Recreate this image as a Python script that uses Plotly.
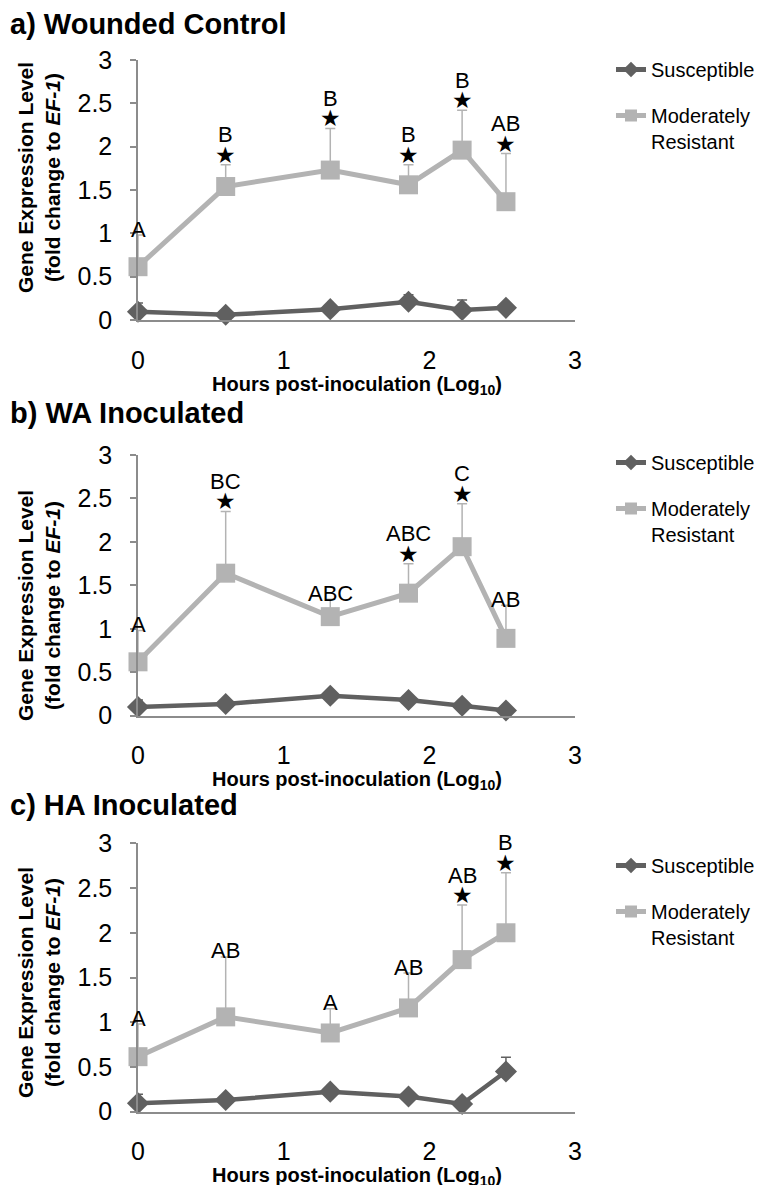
import plotly.graph_objects as go

# ---------------- data ----------------
hours_log = [0.0, 0.602, 1.32, 1.857, 2.225, 2.526]
x_tick_vals = [0, 1, 2, 3]
y_tick_vals = [0, 0.5, 1, 1.5, 2, 2.5, 3]
y_tick_text = ["0", "0.5", "1", "1.5", "2", "2.5", "3"]

panel_titles = ["a) Wounded Control", "b) WA Inoculated", "c) HA Inoculated"]
series_names = ["Susceptible", "Moderately<br>Resistant"]

sus_a = [0.096, 0.06, 0.125, 0.21, 0.115, 0.14]
sus_a_err = [0.10, 0.02, 0.03, 0.08, 0.115, 0.03]
mr_a = [0.615, 1.54, 1.73, 1.56, 1.96, 1.365]
mr_a_err = [0.365, 0.25, 0.48, 0.23, 0.46, 0.555]
letters_a = ["A", "B", "B", "B", "B", "AB"]
stars_a = [False, True, True, True, True, True]

sus_b = [0.10, 0.135, 0.23, 0.18, 0.115, 0.06]
sus_b_err = [0.08, 0.02, 0.05, 0.03, 0.02, 0.02]
mr_b = [0.62, 1.64, 1.14, 1.41, 1.945, 0.89]
mr_b_err = [0.36, 0.71, 0.20, 0.34, 0.495, 0.38]
letters_b = ["A", "BC", "ABC", "ABC", "C", "AB"]
stars_b = [False, True, False, True, True, False]

sus_c = [0.094, 0.13, 0.224, 0.17, 0.086, 0.45]
sus_c_err = [0.10, 0.02, 0.03, 0.02, 0.02, 0.16]
mr_c = [0.615, 1.06, 0.88, 1.16, 1.70, 2.0]
mr_c_err = [0.365, 0.67, 0.27, 0.39, 0.61, 0.67]
letters_c = ["A", "AB", "A", "AB", "AB", "B"]
stars_c = [False, False, False, False, True, True]

panels = [
    (sus_a, sus_a_err, mr_a, mr_a_err, letters_a, stars_a),
    (sus_b, sus_b_err, mr_b, mr_b_err, letters_b, stars_b),
    (sus_c, sus_c_err, mr_c, mr_c_err, letters_c, stars_c),
]

# ---------------- layout geometry (pixels in the 763x1185 page) ----------------
OFF = 8                      # page body margin
W, H = 763 - OFF, 1185 - OFF
FONT = "Arial, 'Liberation Sans', sans-serif"
plot_left, plot_right = 138, 575
panel_px = [(60, 320), (455, 715.7), (843.3, 1111.7)]   # (top, bottom)
title_y = [24, 413, 805]
ytitle_y = [178, 606, 983]
xtitle_y = [385, 780, 1176]
legend_top = [50, 443, 846]

S_COL = "#606060"
M_COL = "#b3b3b3"
AX_COL = "#8c8c8c"

def px_x(p):
    return (p - OFF) / W

def px_y(p):
    return 1 - (p - OFF) / H

fig = go.Figure()
annotations = []

for i, (sus, sus_err, mr, mr_err, letters, stars) in enumerate(panels):
    sfx = "" if i == 0 else str(i + 1)
    xa, ya = "x" + sfx, "y" + sfx
    leg = "legend" + sfx
    fig.add_trace(go.Scatter(
        x=hours_log, y=sus, name=series_names[0], mode="lines+markers",
        xaxis=xa, yaxis=ya, legend=leg, legendgroup="s" + sfx,
        line=dict(color=S_COL, width=4.5),
        marker=dict(symbol="diamond", size=17, color=S_COL),
        error_y=dict(type="data", array=sus_err, arrayminus=[0] * len(sus),
                     symmetric=False, color=S_COL, thickness=1.5, width=5),
        cliponaxis=False,
    ))
    fig.add_trace(go.Scatter(
        x=hours_log, y=mr, name=series_names[1], mode="lines+markers",
        xaxis=xa, yaxis=ya, legend=leg, legendgroup="m" + sfx,
        line=dict(color=M_COL, width=5),
        marker=dict(symbol="square", size=19, color=M_COL),
        error_y=dict(type="data", array=mr_err, arrayminus=[0] * len(mr),
                     symmetric=False, color=M_COL, thickness=1.5, width=5),
        cliponaxis=False,
    ))
    top, bot = panel_px[i]
    fig.update_layout(**{
        "xaxis" + sfx: dict(
            domain=[px_x(plot_left), px_x(plot_right)], range=[0, 3],
            anchor=ya, tickvals=x_tick_vals, ticks="", showgrid=False,
            zeroline=False, showline=True, linecolor=AX_COL, linewidth=1.5,
            ticklabelstandoff=17, automargin=False,
            tickfont=dict(size=25, color="black", family=FONT),
        ),
        "yaxis" + sfx: dict(
            domain=[px_y(bot), px_y(top)], range=[0, 3], anchor=xa,
            tickvals=y_tick_vals, ticktext=y_tick_text, ticks="outside",
            ticklen=6, tickcolor=AX_COL, tickwidth=1.5, showgrid=False,
            zeroline=False, showline=True, linecolor=AX_COL, linewidth=1.5,
            ticklabelstandoff=13, automargin=False,
            tickfont=dict(size=25, color="black", family=FONT),
        ),
        leg: dict(
            x=px_x(611), y=px_y(legend_top[i]), xanchor="left", yanchor="top",
            font=dict(size=20, color="black", family=FONT),
            bgcolor="rgba(0,0,0,0)", tracegroupgap=17, valign="top",
            itemsizing="constant",
        ),
    })
    # panel title
    annotations.append(dict(
        text="<b>" + panel_titles[i] + "</b>", xref="paper", yref="paper",
        x=px_x(8), y=px_y(title_y[i]), xanchor="left", yanchor="middle",
        showarrow=False, font=dict(size=29, color="black", family=FONT)))
    # y title
    annotations.append(dict(
        text="<b>Gene Expression Level<br>(fold change to <i>EF-1</i>)</b>",
        xref="paper", yref="paper", x=px_x(39), y=px_y(ytitle_y[i]),
        xanchor="center", yanchor="middle", textangle=-90, showarrow=False,
        font=dict(size=21, color="black", family=FONT)))
    # x title
    annotations.append(dict(
        text="<b>Hours post-inoculation (Log<sub>10</sub>)</b>",
        xref="paper", yref="paper", x=px_x(357), y=px_y(xtitle_y[i]),
        xanchor="center", yanchor="middle", showarrow=False,
        font=dict(size=20, color="black", family=FONT)))
    # letters and stars
    for xv, m, e, lab, st in zip(hours_log, mr, mr_err, letters, stars):
        ytop = m + e
        if st:
            annotations.append(dict(
                text="★", xref=xa, yref=ya, x=xv, y=ytop, yshift=10,
                showarrow=False, font=dict(size=23, color="black", family="DejaVu Sans")))
            annotations.append(dict(
                text=lab, xref=xa, yref=ya, x=xv, y=ytop, yshift=30,
                showarrow=False, font=dict(size=22, color="black", family=FONT)))
        else:
            annotations.append(dict(
                text=lab, xref=xa, yref=ya, x=xv, y=ytop, yshift=6,
                showarrow=False, font=dict(size=22, color="black", family=FONT)))

fig.update_layout(
    width=W, height=H,
    margin=dict(l=0, r=0, t=0, b=0, pad=0, autoexpand=False),
    paper_bgcolor="white", plot_bgcolor="white",
    annotations=annotations, showlegend=True,
    font=dict(family=FONT, color="black"),
)

fig.write_html("out.html")
